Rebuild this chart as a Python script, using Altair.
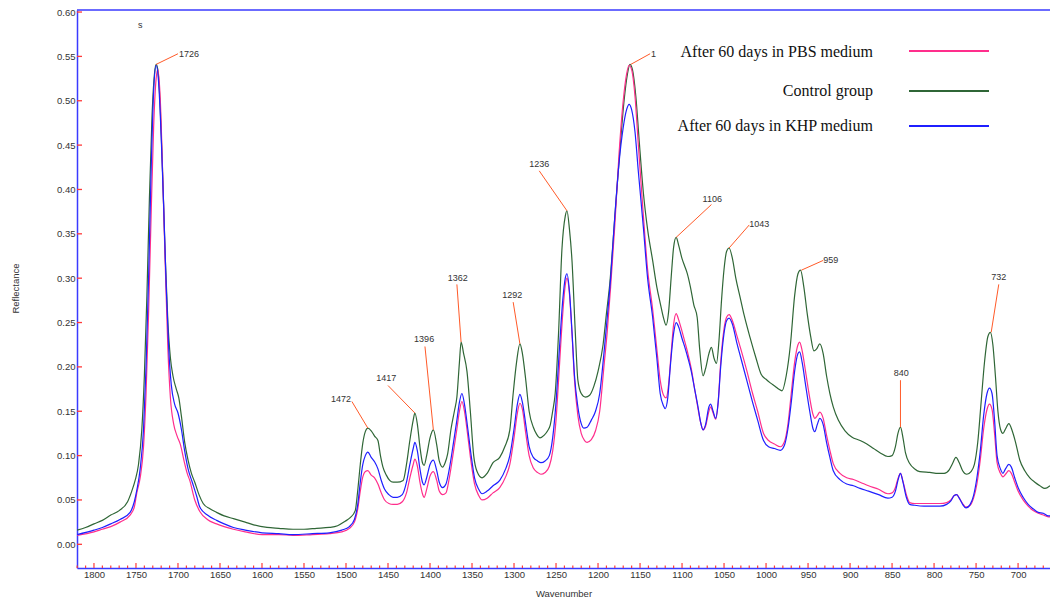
import altair as alt
import pandas as pd
import numpy as np

# ---------------- data ----------------
series_names = ["Control group", "After 60 days in PBS medium", "After 60 days in KHP medium"]
series_colors = ["#2f6636", "#ff2e8c", "#1f1fff"]

control_wn = [1820, 1810, 1800, 1790, 1780, 1770, 1760, 1755, 1751, 1747, 1743, 1740, 1737, 1734, 1731, 1728, 1726, 1724, 1721, 1718,
              1715, 1712, 1709, 1706, 1702, 1699, 1696, 1692, 1688, 1684, 1680, 1675, 1670, 1662, 1654, 1645, 1634, 1620, 1610, 1594,
              1580, 1563, 1550, 1535, 1520, 1510, 1501, 1495, 1489, 1486, 1483, 1480, 1477, 1474, 1470, 1466, 1462, 1459, 1456, 1452,
              1448, 1444, 1439, 1432, 1428, 1424, 1420, 1418, 1415, 1412, 1409, 1407, 1404, 1400, 1396, 1392, 1389, 1385, 1382, 1379,
              1375, 1371, 1368, 1365, 1363, 1360, 1356, 1352, 1348, 1344, 1338, 1332, 1325, 1317, 1311, 1305, 1301, 1297, 1293, 1290,
              1286, 1282, 1277, 1273, 1269, 1264, 1260, 1257, 1254, 1251, 1247, 1243, 1239, 1237, 1234, 1231, 1227, 1224, 1220, 1215,
              1210, 1205, 1200, 1194, 1190, 1186, 1180, 1174, 1169, 1165, 1162, 1159, 1155, 1151, 1146, 1141, 1135, 1130, 1126, 1122,
              1119, 1116, 1113, 1110, 1107, 1104, 1100, 1097, 1094, 1090, 1086, 1082, 1079, 1075, 1072, 1068, 1065, 1062, 1059, 1056,
              1053, 1050, 1047, 1044, 1040, 1036, 1031, 1026, 1019, 1012, 1006, 1000, 995, 989, 985, 981, 976, 971, 966, 962,
              959, 955, 951, 947, 943, 940, 936, 932, 928, 924, 920, 914, 906, 898, 888, 880, 872, 864, 855, 850,
              846, 843, 840, 837, 834, 829, 823, 817, 805, 795, 788, 782, 778, 774, 770, 766, 761, 756, 752, 748,
              744, 740, 736, 733, 730, 727, 724, 721, 718, 715, 711, 707, 703, 698, 692, 686, 680, 674, 668, 662]
control_val = [0.016, 0.019, 0.023, 0.027, 0.033, 0.038, 0.048, 0.060, 0.072, 0.090, 0.13, 0.19, 0.28, 0.39, 0.48, 0.53, 0.541, 0.535, 0.49, 0.41,
               0.32, 0.25, 0.21, 0.19, 0.175, 0.165, 0.145, 0.115, 0.095, 0.080, 0.070, 0.056, 0.046, 0.040, 0.036, 0.032, 0.029, 0.025, 0.022, 0.019,
               0.018, 0.017, 0.017, 0.018, 0.019, 0.021, 0.026, 0.030, 0.038, 0.061, 0.090, 0.114, 0.127, 0.131, 0.128, 0.122, 0.117, 0.100, 0.087, 0.078,
               0.072, 0.070, 0.070, 0.072, 0.090, 0.117, 0.140, 0.148, 0.135, 0.110, 0.092, 0.089, 0.100, 0.120, 0.129, 0.112, 0.094, 0.087, 0.092, 0.102,
               0.130, 0.150, 0.166, 0.205, 0.228, 0.215, 0.195, 0.150, 0.100, 0.082, 0.075, 0.080, 0.092, 0.098, 0.110, 0.129, 0.170, 0.205, 0.226, 0.215,
               0.185, 0.150, 0.132, 0.124, 0.120, 0.123, 0.128, 0.134, 0.150, 0.170, 0.238, 0.332, 0.370, 0.376, 0.355, 0.320, 0.238, 0.185, 0.170, 0.166,
               0.168, 0.178, 0.195, 0.225, 0.260, 0.294, 0.369, 0.444, 0.500, 0.530, 0.541, 0.535, 0.505, 0.455, 0.396, 0.355, 0.320, 0.290, 0.272, 0.255,
               0.247, 0.262, 0.300, 0.335, 0.346, 0.337, 0.322, 0.314, 0.306, 0.290, 0.270, 0.256, 0.220, 0.190, 0.198, 0.215, 0.222, 0.210, 0.204, 0.230,
               0.275, 0.310, 0.330, 0.334, 0.322, 0.300, 0.279, 0.258, 0.233, 0.210, 0.192, 0.186, 0.182, 0.178, 0.175, 0.173, 0.190, 0.225, 0.280, 0.305,
               0.309, 0.290, 0.260, 0.235, 0.218, 0.220, 0.226, 0.215, 0.190, 0.170, 0.155, 0.140, 0.128, 0.121, 0.117, 0.113, 0.108, 0.103, 0.099, 0.100,
               0.110, 0.125, 0.132, 0.120, 0.103, 0.091, 0.085, 0.082, 0.081, 0.080, 0.080, 0.084, 0.091, 0.098, 0.092, 0.083, 0.079, 0.082, 0.090, 0.115,
               0.160, 0.205, 0.234, 0.239, 0.225, 0.190, 0.150, 0.130, 0.125, 0.130, 0.136, 0.128, 0.115, 0.095, 0.083, 0.075, 0.070, 0.066, 0.063, 0.066]

pbs_wn = [1820, 1800, 1790, 1780, 1769, 1757, 1752, 1749, 1745, 1741, 1738, 1735, 1732, 1729, 1726, 1724, 1721, 1718, 1715, 1712,
          1709, 1705, 1701, 1697, 1693, 1689, 1686, 1680, 1674, 1665, 1654, 1645, 1634, 1620, 1600, 1580, 1563, 1540, 1520, 1505,
          1496, 1490, 1486, 1483, 1480, 1477, 1474, 1470, 1466, 1462, 1458, 1454, 1449, 1444, 1439, 1433, 1428, 1424, 1420, 1418,
          1415, 1412, 1409, 1407, 1404, 1400, 1396, 1392, 1389, 1385, 1381, 1377, 1372, 1368, 1365, 1362, 1359, 1355, 1351, 1347,
          1342, 1338, 1332, 1325, 1317, 1310, 1305, 1300, 1296, 1293, 1290, 1286, 1282, 1277, 1272, 1268, 1263, 1258, 1254, 1250,
          1246, 1242, 1239, 1237, 1234, 1231, 1228, 1224, 1220, 1216, 1213, 1208, 1203, 1198, 1193, 1189, 1185, 1180, 1175, 1170,
          1166, 1163, 1160, 1156, 1152, 1146, 1141, 1135, 1130, 1126, 1122, 1119, 1116, 1113, 1110, 1107, 1104, 1100, 1096, 1093,
          1089, 1085, 1081, 1078, 1075, 1072, 1068, 1066, 1063, 1060, 1057, 1054, 1050, 1047, 1044, 1040, 1035, 1030, 1023, 1016,
          1010, 1003, 997, 990, 983, 978, 974, 970, 966, 962, 960, 957, 953, 948, 944, 942, 939, 936, 932, 928,
          924, 920, 912, 904, 896, 888, 878, 866, 855, 850, 846, 843, 840, 837, 833, 829, 823, 812, 800, 793,
          785, 780, 776, 773, 770, 766, 762, 757, 753, 749, 745, 741, 737, 734, 731, 728, 725, 721, 718, 715,
          711, 708, 704, 700, 694, 688, 682, 676, 670, 664, 662]
pbs_val = [0.010, 0.014, 0.017, 0.020, 0.025, 0.033, 0.042, 0.058, 0.075, 0.11, 0.17, 0.26, 0.37, 0.47, 0.525, 0.535, 0.50, 0.41, 0.31, 0.22,
           0.165, 0.135, 0.122, 0.112, 0.095, 0.080, 0.072, 0.050, 0.037, 0.028, 0.023, 0.020, 0.017, 0.014, 0.011, 0.011, 0.010, 0.011, 0.012, 0.014,
           0.018, 0.025, 0.040, 0.060, 0.076, 0.082, 0.083, 0.078, 0.075, 0.068, 0.058, 0.050, 0.046, 0.045, 0.045, 0.048, 0.058, 0.075, 0.090, 0.096,
           0.088, 0.070, 0.057, 0.053, 0.062, 0.077, 0.082, 0.072, 0.060, 0.056, 0.058, 0.075, 0.105, 0.130, 0.150, 0.161, 0.150, 0.122, 0.092, 0.068,
           0.055, 0.050, 0.052, 0.058, 0.064, 0.076, 0.090, 0.120, 0.148, 0.159, 0.152, 0.125, 0.100, 0.086, 0.081, 0.079, 0.081, 0.088, 0.105, 0.140,
           0.200, 0.260, 0.292, 0.300, 0.282, 0.238, 0.185, 0.145, 0.125, 0.117, 0.115, 0.118, 0.128, 0.150, 0.200, 0.240, 0.290, 0.360, 0.440, 0.500,
           0.530, 0.540, 0.535, 0.505, 0.450, 0.370, 0.310, 0.265, 0.220, 0.185, 0.168, 0.165, 0.180, 0.215, 0.248, 0.260, 0.253, 0.240, 0.226, 0.215,
           0.198, 0.175, 0.153, 0.138, 0.129, 0.133, 0.150, 0.155, 0.148, 0.141, 0.160, 0.205, 0.243, 0.256, 0.259, 0.252, 0.236, 0.220, 0.196, 0.170,
           0.150, 0.125, 0.117, 0.113, 0.110, 0.116, 0.135, 0.170, 0.205, 0.225, 0.228, 0.218, 0.195, 0.165, 0.146, 0.142, 0.145, 0.149, 0.142, 0.123,
           0.106, 0.091, 0.080, 0.075, 0.073, 0.070, 0.066, 0.062, 0.057, 0.058, 0.064, 0.074, 0.080, 0.071, 0.056, 0.047, 0.046, 0.046, 0.046, 0.046,
           0.047, 0.050, 0.055, 0.056, 0.052, 0.046, 0.042, 0.044, 0.052, 0.068, 0.095, 0.130, 0.152, 0.158, 0.152, 0.125, 0.092, 0.080, 0.076, 0.079,
           0.083, 0.080, 0.070, 0.060, 0.050, 0.043, 0.038, 0.035, 0.033, 0.031, 0.031]

khp_wn = [1820, 1800, 1790, 1780, 1769, 1757, 1752, 1749, 1745, 1741, 1738, 1735, 1732, 1729, 1726, 1723, 1720, 1717, 1714, 1711,
          1708, 1704, 1700, 1696, 1692, 1688, 1683, 1678, 1674, 1665, 1654, 1645, 1634, 1620, 1600, 1580, 1563, 1540, 1520, 1505,
          1496, 1490, 1486, 1483, 1480, 1477, 1474, 1470, 1466, 1462, 1458, 1454, 1449, 1444, 1439, 1433, 1428, 1424, 1420, 1418,
          1415, 1412, 1409, 1407, 1404, 1400, 1396, 1392, 1389, 1385, 1381, 1377, 1372, 1368, 1365, 1362, 1359, 1355, 1351, 1347,
          1342, 1338, 1332, 1325, 1317, 1310, 1305, 1300, 1296, 1293, 1290, 1286, 1282, 1277, 1272, 1268, 1263, 1258, 1254, 1250,
          1246, 1242, 1239, 1237, 1234, 1231, 1228, 1224, 1220, 1217, 1213, 1208, 1203, 1198, 1193, 1189, 1185, 1180, 1175, 1170,
          1166, 1163, 1160, 1156, 1152, 1146, 1141, 1135, 1130, 1126, 1122, 1120, 1117, 1114, 1110, 1107, 1104, 1100, 1096, 1093,
          1089, 1085, 1081, 1078, 1075, 1072, 1068, 1066, 1063, 1060, 1057, 1054, 1050, 1047, 1044, 1040, 1035, 1030, 1023, 1016,
          1010, 1003, 997, 990, 983, 978, 974, 970, 966, 962, 960, 957, 953, 948, 944, 942, 939, 936, 932, 928,
          924, 920, 912, 904, 896, 888, 878, 866, 855, 850, 846, 843, 840, 837, 833, 829, 823, 812, 800, 793,
          785, 780, 776, 773, 770, 766, 762, 757, 753, 749, 745, 741, 737, 734, 731, 728, 725, 721, 718, 715,
          711, 708, 704, 700, 694, 688, 682, 676, 670, 664, 662]
khp_val = [0.011, 0.016, 0.019, 0.023, 0.028, 0.036, 0.048, 0.061, 0.085, 0.13, 0.20, 0.30, 0.42, 0.51, 0.540, 0.52, 0.46, 0.38, 0.29, 0.22,
           0.18, 0.158, 0.148, 0.130, 0.105, 0.085, 0.070, 0.055, 0.042, 0.033, 0.027, 0.023, 0.019, 0.016, 0.013, 0.012, 0.011, 0.012, 0.013, 0.016,
           0.020, 0.028, 0.045, 0.070, 0.090, 0.100, 0.104, 0.098, 0.093, 0.085, 0.072, 0.062, 0.056, 0.053, 0.053, 0.056, 0.070, 0.090, 0.108, 0.115,
           0.105, 0.085, 0.070, 0.067, 0.075, 0.090, 0.095, 0.083, 0.070, 0.064, 0.068, 0.085, 0.115, 0.140, 0.160, 0.170, 0.158, 0.130, 0.100, 0.075,
           0.062, 0.057, 0.060, 0.066, 0.072, 0.085, 0.100, 0.130, 0.158, 0.169, 0.160, 0.135, 0.110, 0.098, 0.094, 0.092, 0.094, 0.100, 0.120, 0.160,
           0.220, 0.275, 0.300, 0.305, 0.285, 0.240, 0.190, 0.155, 0.136, 0.131, 0.132, 0.140, 0.150, 0.170, 0.215, 0.256, 0.300, 0.370, 0.430, 0.470,
           0.490, 0.496, 0.490, 0.465, 0.420, 0.357, 0.300, 0.256, 0.210, 0.170, 0.156, 0.153, 0.165, 0.200, 0.238, 0.250, 0.245, 0.232, 0.220, 0.210,
           0.195, 0.175, 0.155, 0.138, 0.129, 0.135, 0.155, 0.158, 0.150, 0.142, 0.160, 0.200, 0.238, 0.252, 0.255, 0.248, 0.228, 0.210, 0.185, 0.160,
           0.140, 0.117, 0.110, 0.108, 0.106, 0.112, 0.130, 0.160, 0.195, 0.215, 0.217, 0.205, 0.180, 0.150, 0.130, 0.127, 0.135, 0.142, 0.135, 0.115,
           0.098, 0.083, 0.073, 0.068, 0.066, 0.063, 0.060, 0.056, 0.052, 0.053, 0.060, 0.072, 0.080, 0.070, 0.053, 0.045, 0.044, 0.043, 0.043, 0.043,
           0.045, 0.049, 0.055, 0.056, 0.052, 0.045, 0.041, 0.045, 0.055, 0.075, 0.105, 0.145, 0.170, 0.176, 0.170, 0.140, 0.100, 0.085, 0.080, 0.085,
           0.090, 0.087, 0.075, 0.064, 0.053, 0.045, 0.040, 0.036, 0.035, 0.032, 0.032]

# peak annotations: label, peak (wn, value), leader end (wn, value), label centre (wn, value)
ann_labels = ["1726", "1", "1236", "1106", "1043", "959", "732", "840", "1292", "1362", "1396", "1417", "1472"]
ann_px = [1726, 1161, 1237, 1107, 1044, 958, 732, 840, 1293, 1363, 1396, 1418, 1474]
ann_py = [0.541, 0.541, 0.376, 0.346, 0.334, 0.309, 0.239, 0.132, 0.226, 0.228, 0.129, 0.148, 0.131]
ann_ex = [1700, 1138, 1270, 1065, 1020, 932, 723, 840, 1301, 1368, 1406, 1450, 1493]
ann_ey = [0.553, 0.553, 0.421, 0.383, 0.360, 0.320, 0.293, 0.185, 0.273, 0.293, 0.223, 0.179, 0.161]
ann_tx = [1687, 1134, 1270, 1064, 1008, 923, 723, 839, 1302, 1367, 1407, 1452, 1506]
ann_ty = [0.553, 0.553, 0.429, 0.389, 0.361, 0.320, 0.301, 0.193, 0.281, 0.300, 0.232, 0.187, 0.164]

y_tick_values = [round(0.05 * i, 2) for i in range(13)]
x_major_ticks = list(range(700, 1801, 50))
x_minor_ticks = [v for v in range(670, 1821, 10) if v % 50 != 0]

# ---------------- chart ----------------
W, H = 973, 558
FONT = "Liberation Sans"
RED = "#ff3a3a"
AXBLUE = "#3a3aff"
ORANGE = "#ff5a28"

xscale = alt.Scale(domain=[662, 1820.2], reverse=True, nice=False, zero=False)
yscale = alt.Scale(domain=[-0.0267, 0.6023], nice=False, zero=False)

x_axis = alt.Axis(values=x_major_ticks, format="d", ticks=False, grid=False,
                  domainColor=AXBLUE, domainWidth=1.5, labelPadding=1,
                  labelFont=FONT, labelFontSize=9.5, labelColor="#333333",
                  title="Wavenumber", titleFont=FONT, titleFontSize=9.5, titleFontWeight="normal",
                  titleColor="#333333", titleBaseline="alphabetic", titleY=28, labelFlush=False)
y_axis = alt.Axis(values=y_tick_values, format=".2f", ticks=False, grid=False,
                  domainColor=AXBLUE, domainWidth=1.5, labelPadding=2,
                  labelFont=FONT, labelFontSize=9.5, labelColor="#333333",
                  title="Reflectance", titleFont=FONT, titleFontSize=9.5, titleFontWeight="normal",
                  titleColor="#333333", titleAngle=270, titleX=-62, titleY=278,
                  titleAlign="center", titleBaseline="middle", labelFlush=False)


def X(field):
    return alt.X(field, type="quantitative", scale=xscale, axis=x_axis)


def Y(field):
    return alt.Y(field, type="quantitative", scale=yscale, axis=y_axis)


layers = []
for name, wn, val, color in [(series_names[0], control_wn, control_val, series_colors[0]),
                             (series_names[1], pbs_wn, pbs_val, series_colors[1]),
                             (series_names[2], khp_wn, khp_val, series_colors[2])]:
    df = pd.DataFrame({"series": name, "wn": wn, "val": val})
    layers.append(
        alt.Chart(df).mark_line(interpolate="monotone", strokeWidth=1.2, color=color).encode(
            x=X("wn"), y=Y("val"))
    )

ann_df = pd.DataFrame({"label": ann_labels, "wn": ann_px, "val": ann_py,
                       "ex": ann_ex, "ey": ann_ey, "tx": ann_tx, "ty": ann_ty})
leaders = alt.Chart(ann_df).mark_rule(color=ORANGE, strokeWidth=1).encode(
    x=X("wn"), y=Y("val"), x2="ex:Q", y2="ey:Q")
ann_text = alt.Chart(ann_df).mark_text(font=FONT, fontSize=9, color="#333333",
                                       align="center", baseline="middle").encode(
    x=X("tx"), y=Y("ty"), text="label:N")

s_text = alt.Chart(pd.DataFrame({"tx": [1745], "ty": [0.585], "t": ["s"]})).mark_text(
    font=FONT, fontSize=9, color="#333333", align="center", baseline="middle").encode(
    x=X("tx"), y=Y("ty"), text="t:N")

# tick marks pointing inward
yt = alt.Chart(pd.DataFrame({"v": y_tick_values})).mark_rule(color=RED, strokeWidth=1.3).encode(
    y=Y("v"), x=alt.value(0), x2=alt.value(5))
xt_major = alt.Chart(pd.DataFrame({"v": x_major_ticks})).mark_rule(color=RED, strokeWidth=1.2).encode(
    x=X("v"), y=alt.value(H), y2=alt.value(H - 5))
xt_minor = alt.Chart(pd.DataFrame({"v": x_minor_ticks})).mark_rule(color=RED, strokeWidth=1.2).encode(
    x=X("v"), y=alt.value(H), y2=alt.value(H - 2.5))

top_border = alt.Chart(pd.DataFrame({"a": [0]})).mark_rule(color=AXBLUE, strokeWidth=1.5).encode(
    y=alt.value(0), x=alt.value(0), x2=alt.value(W))

# manual legend (label text on the left, line sample on the right)
legend_layers = []
legend_line_y = [41, 81, 116]
legend_text_y = [47, 86, 121]
legend_order = [1, 0, 2]  # PBS, Control, KHP
for k, si in enumerate(legend_order):
    legend_layers.append(
        alt.Chart(pd.DataFrame({"t": [series_names[si]]})).mark_text(
            font="Liberation Serif", fontSize=16, color="#111111", align="right", baseline="alphabetic").encode(
            x=alt.value(796), y=alt.value(legend_text_y[k]), text="t:N"))
    legend_layers.append(
        alt.Chart(pd.DataFrame({"t": [series_names[si]]})).mark_rule(color=series_colors[si], strokeWidth=2).encode(
            x=alt.value(832), x2=alt.value(912), y=alt.value(legend_line_y[k])))

chart = alt.layer(
    xt_major, xt_minor, yt, *layers, top_border, leaders, ann_text, s_text, *legend_layers
).properties(
    width=W, height=H,
    autosize=alt.AutoSizeParams(type="none"),
    padding={"left": 77, "top": 10, "right": 0, "bottom": 33},
    background="white",
).configure_view(stroke=None)

chart.save("out.html", embed_options={"renderer": "svg", "actions": False})
